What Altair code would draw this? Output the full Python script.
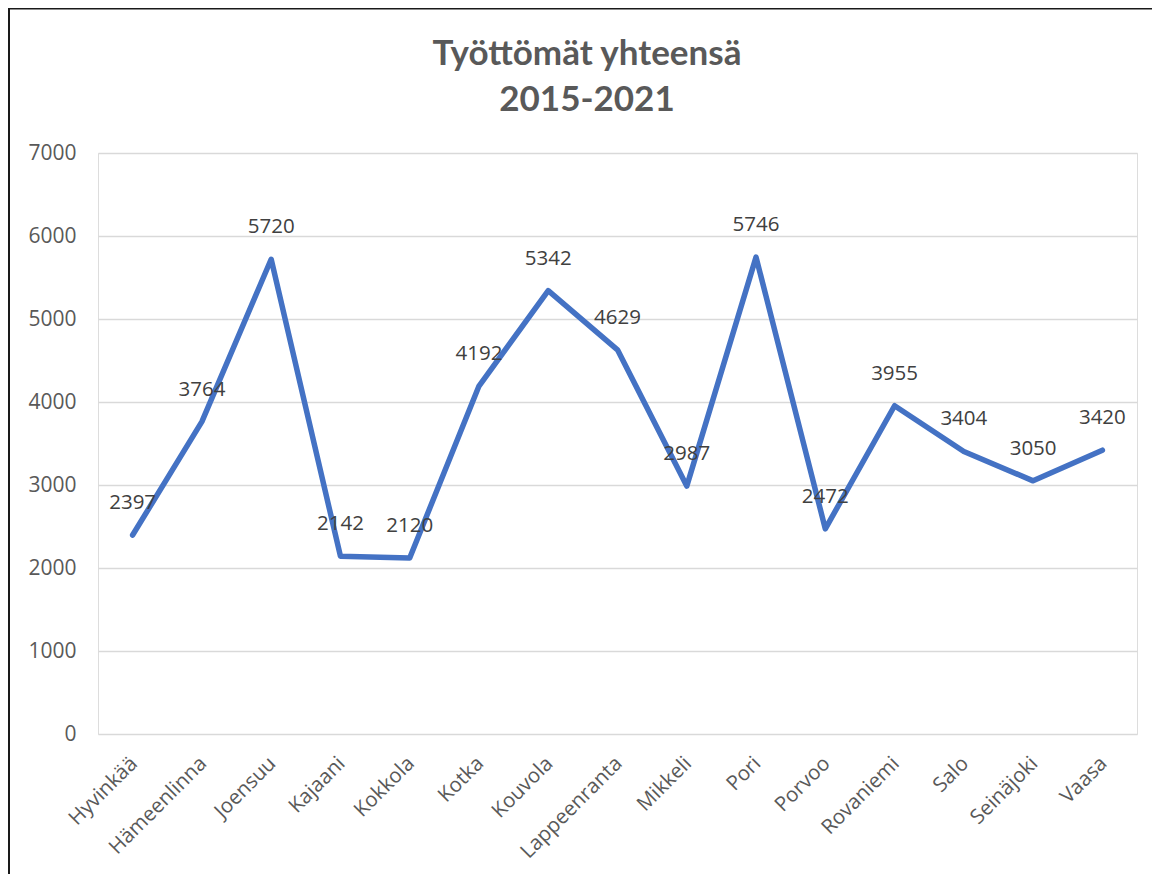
import altair as alt
import pandas as pd

cities = ["Hyvinkää", "Hämeenlinna", "Joensuu", "Kajaani", "Kokkola", "Kotka", "Kouvola",
          "Lappeenranta", "Mikkeli", "Pori", "Porvoo", "Rovaniemi", "Salo", "Seinäjoki", "Vaasa"]
values = [2397, 3764, 5720, 2142, 2120, 4192, 5342, 4629, 2987, 5746, 2472, 3955, 3404, 3050, 3420]
y_ticks = [0, 1000, 2000, 3000, 4000, 5000, 6000, 7000]
title_lines = ["Työttömät yhteensä", "2015-2021"]

df = pd.DataFrame({"kaupunki": cities, "tyottomat": values})

FONT = "Open Sans"

x_enc = alt.X("kaupunki:N", sort=cities, title=None,
              scale=alt.Scale(type="point", padding=0.5),
              axis=alt.Axis(labelAngle=-45, labelFontSize=20.5, labelColor="#595959",
                            labelFont=FONT, ticks=False, domain=False, grid=False,
                            labelPadding=19, labelOffset=-6))
y_enc = alt.Y("tyottomat:Q", title=None,
              scale=alt.Scale(domain=[0, 7000], nice=False),
              axis=alt.Axis(values=y_ticks, format="d", labelFontSize=21,
                            labelColor="#595959",
                            labelFont=FONT, ticks=False, domain=False, grid=True,
                            gridColor="#D9D9D9", gridWidth=1.5, labelPadding=22))

base = alt.Chart(df)

line = base.mark_line(color="#4472C4", strokeWidth=5.5, strokeCap="round",
                      strokeJoin="round").encode(x=x_enc, y=y_enc)

labels = base.mark_text(dy=-32, fontSize=20.5, color="#404040", font=FONT,
                        align="center", baseline="middle").encode(
    x=alt.X("kaupunki:N", sort=cities),
    y=alt.Y("tyottomat:Q"),
    text=alt.Text("tyottomat:Q", format="d"))

title_df = pd.DataFrame({"line": title_lines, "row": [0, 1]})
title_style = dict(font="Lato", fontSize=35, fontWeight="bold", color="#595959",
                   align="center", baseline="alphabetic")
title1 = alt.Chart(title_df).transform_filter("datum.row == 0").mark_text(
    **title_style).encode(text="line:N", x=alt.value(489), y=alt.value(-88))
title2 = alt.Chart(title_df).transform_filter("datum.row == 1").mark_text(
    **title_style).encode(text="line:N", x=alt.value(489), y=alt.value(-42))

border_df = pd.DataFrame({"k": [0]})
border = alt.Chart(border_df).mark_rect(fillOpacity=0, stroke="#1a1a1a",
                                        strokeWidth=2).encode(
    x=alt.value(-89), x2=alt.value(1200), y=alt.value(-144.5), y2=alt.value(900))

chart = alt.layer(line, labels, title1, title2, border).properties(
    width=1039, height=581,
    padding={"left": 90, "top": 145, "right": 15, "bottom": 140},
    autosize=alt.AutoSizeParams(type="none"),
).configure_view(stroke=None).configure(background="white")

chart.save("out.html", embed_options={"renderer": "svg", "actions": False})
